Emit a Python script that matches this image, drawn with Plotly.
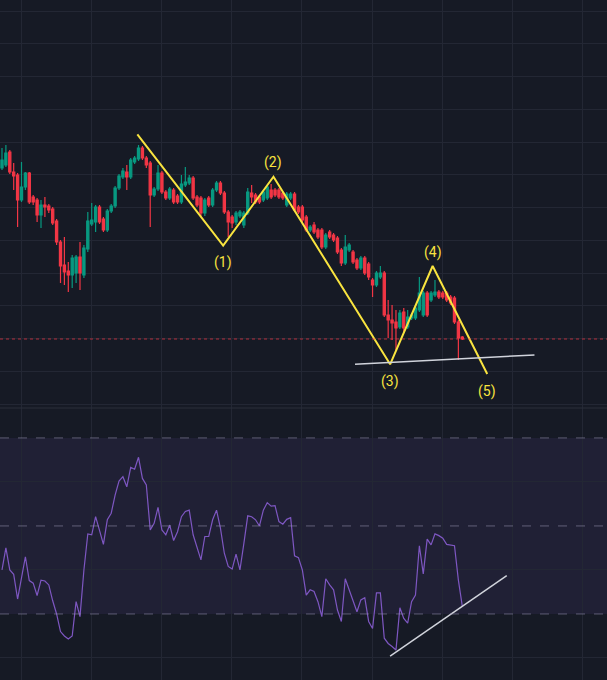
import plotly.graph_objects as go

# candele (indice barra, prezzo)
opens = [832, 835, 848, 828, 825, 800, 813, 827, 803, 800, 785, 795, 794, 791, 779, 758, 735, 729, 725, 727,
         743, 725, 751, 776, 778, 793, 781, 770, 789, 794, 812, 823, 828, 823, 838, 841, 852, 842, 837, 805,
         811, 827, 808, 802, 810, 804, 798, 815, 817, 822, 803, 802, 787, 802, 795, 810, 817, 807, 788, 783,
         778, 784, 775, 787, 807, 805, 803, 800, 802, 810, 810, 810, 807, 795, 802, 806, 793, 793, 783, 770,
         775, 770, 770, 753, 768, 765, 762, 750, 737, 750, 748, 740, 732, 742, 736, 720, 715, 723, 727, 685,
         680, 678, 673, 688, 673, 682, 682, 690, 685, 707, 700, 705, 708, 707, 707, 703, 702, 678, 663]
highs = [852, 855, 850, 837, 827, 838, 828, 828, 805, 802, 800, 803, 796, 793, 781, 760, 763, 738, 745, 745,
         758, 755, 788, 797, 795, 795, 783, 791, 796, 814, 826, 832, 835, 842, 844, 855, 854, 844, 839, 813,
         835, 829, 810, 813, 812, 806, 825, 833, 825, 824, 805, 804, 802, 804, 812, 819, 819, 809, 790, 785,
         789, 790, 789, 812, 815, 807, 805, 810, 815, 816, 812, 812, 809, 808, 808, 808, 795, 795, 785, 775,
         778, 772, 772, 767, 770, 767, 764, 752, 765, 757, 750, 742, 744, 744, 738, 722, 729, 734, 729, 700,
         695, 690, 690, 692, 690, 687, 695, 723, 709, 709, 709, 720, 710, 709, 709, 705, 704, 680, 664]
lows = [830, 833, 826, 810, 773, 798, 810, 796, 795, 778, 772, 783, 787, 775, 755, 717, 715, 708, 712, 717,
        710, 722, 748, 774, 768, 776, 768, 768, 787, 792, 810, 821, 810, 821, 836, 839, 840, 832, 773, 803,
        809, 806, 800, 800, 796, 796, 796, 813, 815, 800, 793, 784, 784, 793, 793, 808, 805, 786, 763, 772,
        775, 782, 772, 785, 797, 796, 796, 798, 800, 801, 803, 801, 800, 793, 800, 788, 786, 778, 768, 768,
        766, 761, 751, 751, 761, 758, 746, 734, 735, 748, 736, 730, 730, 725, 720, 703, 713, 721, 683, 662,
        660, 650, 671, 668, 671, 680, 680, 688, 683, 683, 698, 703, 701, 701, 698, 695, 676, 640, 660]
closes = [840, 847, 828, 824, 800, 813, 827, 798, 798, 785, 795, 793, 790, 777, 758, 734, 728, 725, 742, 743,
          727, 752, 779, 780, 793, 778, 770, 789, 794, 812, 824, 829, 823, 840, 842, 852, 842, 835, 805, 811,
          827, 808, 802, 811, 798, 798, 816, 818, 822, 802, 795, 787, 800, 795, 810, 817, 807, 788, 778, 777,
          787, 788, 787, 808, 803, 798, 798, 808, 813, 803, 805, 803, 802, 806, 806, 790, 788, 780, 770, 773,
          768, 763, 753, 765, 763, 760, 748, 737, 753, 755, 738, 732, 742, 727, 723, 715, 727, 727, 685, 680,
          677, 672, 687, 672, 683, 685, 692, 707, 707, 685, 707, 708, 703, 703, 700, 697, 678, 662, 661]

rsi = [40, 45, 40, 39, 33.4, 38, 43, 37.6, 37, 34.2, 37.7, 37.5, 36.6, 33, 30, 26, 25, 24.3, 25, 32.8,
       29.4, 40, 48.2, 48, 52.1, 49, 45.8, 51.4, 52.9, 57, 60.2, 61.2, 58.9, 63.3, 62.9, 65.6, 60.8, 59.3, 49.1, 50.6,
       54.2, 49.1, 48, 50.2, 46.7, 48.7, 52.1, 53.3, 53.6, 48, 45, 42.3, 47.6, 47.6, 51.4, 53.6, 49.5, 43.8, 40.8, 40.2,
       43.6, 40, 46, 52.3, 52.1, 51.4, 50, 53.6, 55.3, 54.5, 54.6, 51, 50.4, 51.5, 51.9, 43.2, 42.8, 40, 34.3, 35.5,
       35.1, 32.8, 29.4, 38, 36.6, 35.5, 30.9, 28.3, 38, 35.5, 33.2, 30.5, 33.2, 33.7, 28.3, 26.7, 34.8, 34.8, 24.5, 23.3,
       22.6, 21.8, 31.4, 29, 27.9, 32.8, 34.3, 45.5, 39.1, 47, 45.7, 48.2, 47.8, 47.2, 45.8, 45.6, 45.5, 37.7, 31.8]

bars = list(range(len(closes)))

# onde di Elliott (disegnate a mano sul grafico)
wave_x = [34.7, 56.7, 69.6, 99.5, 110.4, 124.4]
wave_y = [865.7, 754.3, 823.3, 635.7, 734, 626]
wave_labels = ["", "(1)", "(2)", "(3)", "(4)", "(5)"]

# trendline bianche
support_x = [90.5, 136.5]
support_y = [635.7, 645]
rsi_trend_x = [99.5, 129.4]
rsi_trend_y = [20.45, 38.7]

BG = "#161a25"
GRID = "#232734"
YELLOW = "#f9e43f"

fig = go.Figure()

fig.add_trace(go.Candlestick(
    x=bars, open=opens, high=highs, low=lows, close=closes,
    increasing=dict(line=dict(color="#089981", width=1.2), fillcolor="#089981"),
    decreasing=dict(line=dict(color="#f23645", width=1.2), fillcolor="#f23645"),
    xaxis="x", yaxis="y", showlegend=False, hoverinfo="skip"))

fig.add_trace(go.Scatter(x=wave_x, y=wave_y, mode="lines",
                         line=dict(color=YELLOW, width=2),
                         xaxis="x", yaxis="y", showlegend=False, hoverinfo="skip"))
fig.add_trace(go.Scatter(x=support_x, y=support_y, mode="lines",
                         line=dict(color="#d1d4dc", width=1.5),
                         xaxis="x", yaxis="y", showlegend=False, hoverinfo="skip"))

fig.add_trace(go.Scatter(x=bars, y=rsi, mode="lines",
                         line=dict(color="#7e57c2", width=1.2),
                         xaxis="x2", yaxis="y2", showlegend=False, hoverinfo="skip"))
fig.add_trace(go.Scatter(x=rsi_trend_x, y=rsi_trend_y, mode="lines",
                         line=dict(color="#d1d4dc", width=1.5),
                         xaxis="x2", yaxis="y2", showlegend=False, hoverinfo="skip"))

# etichette delle onde
for i, lab in enumerate(wave_labels):
    if not lab:
        continue
    low_point = wave_y[i] < wave_y[i - 1]
    fig.add_annotation(x=wave_x[i], y=wave_y[i], xref="x", yref="y", text=lab,
                       showarrow=False, yanchor="middle",
                       yshift=-17 if low_point else 14,
                       font=dict(color=YELLOW, size=14, family="Roboto"))

# banda RSI 30-70 e livelli tratteggiati
fig.add_shape(type="rect", xref="x2 domain", yref="y2", x0=0, x1=1, y0=30, y1=70,
              fillcolor="rgba(126,87,194,0.10)", line=dict(width=0), layer="below")
for lvl in [30, 50, 70]:
    fig.add_shape(type="line", xref="x2 domain", yref="y2", x0=0, x1=1, y0=lvl, y1=lvl,
                  line=dict(color="rgba(150,145,175,0.55)", width=1, dash="dash"))

# linea dell'ultimo prezzo
fig.add_shape(type="line", xref="x domain", yref="y", x0=0, x1=1, y0=closes[-1], y1=closes[-1],
              line=dict(color="rgba(242,54,69,0.7)", width=1, dash="dot"))

# separatore pannelli
fig.add_shape(type="line", xref="paper", yref="paper", x0=0, x1=1, y0=0.4, y1=0.4,
              line=dict(color="#2a2e3a", width=1))

xcommon = dict(range=[-0.51, 155.1], showticklabels=False, showgrid=True, gridcolor=GRID,
               gridwidth=1, tick0=4.9, dtick=18, zeroline=False, showline=False, ticks="")

fig.update_layout(
    width=607, height=680,
    margin=dict(l=0, r=0, t=0, b=0),
    paper_bgcolor=BG, plot_bgcolor=BG,
    boxgap=0.2,
    xaxis=dict(**xcommon, anchor="y", rangeslider=dict(visible=False)),
    xaxis2=dict(**xcommon, anchor="y2", matches="x"),
    yaxis=dict(domain=[0.4, 1], range=[592, 1000], showticklabels=False, showgrid=True,
               gridcolor=GRID, tick0=596, dtick=32.75, zeroline=False, ticks=""),
    yaxis2=dict(domain=[0, 0.4], range=[15, 76.8], showticklabels=False, showgrid=True,
                gridcolor=GRID, tick0=0, dtick=20, zeroline=False, ticks=""),
)

# niente margine bianco della pagina, niente barra strumenti
fig.write_html("out.html", config={"displayModeBar": False},
               post_script="document.body.style.margin='0';")
